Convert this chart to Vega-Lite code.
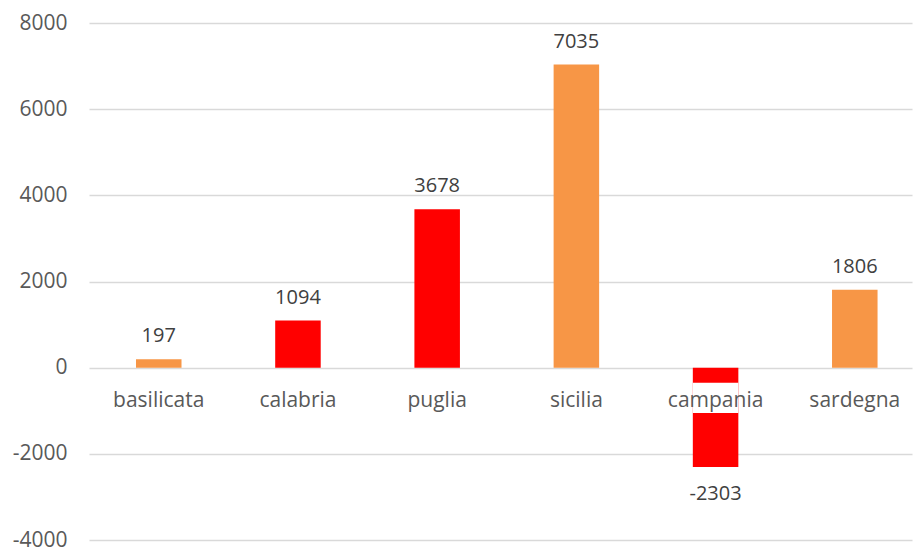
{
  "$schema": "https://vega.github.io/schema/vega-lite/v6.json",
  "width": 823,
  "height": 517,
  "autosize": {"type": "none"},
  "padding": {"left": 89, "top": 23, "right": 2, "bottom": 8},
  "background": "white",
  "config": {"view": {"stroke": null}, "font": "Open Sans"},
  "data": {"values": [
    {"regione": "basilicata", "valore": 197, "colore": "orange"},
    {"regione": "calabria", "valore": 1094, "colore": "red"},
    {"regione": "puglia", "valore": 3678, "colore": "red"},
    {"regione": "sicilia", "valore": 7035, "colore": "orange"},
    {"regione": "campania", "valore": -2303, "colore": "red"},
    {"regione": "sardegna", "valore": 1806, "colore": "orange"}
  ]},
  "encoding": {
    "x": {"field": "regione", "type": "nominal", "sort": null,
      "scale": {"paddingInner": 0.673, "paddingOuter": 0.2925, "align": 0.577},
      "axis": null}
  },
  "layer": [
    {
      "mark": {"type": "bar"},
      "encoding": {
        "y": {"field": "valore", "type": "quantitative",
          "scale": {"domain": [-4000, 8000], "nice": false, "zero": false},
          "axis": {"values": [-4000, -2000, 0, 2000, 4000, 6000, 8000], "title": null,
            "domain": false, "ticks": false, "grid": true, "gridColor": "#D9D9D9", "gridWidth": 1.3,
            "labelFontSize": 21, "labelColor": "#595959", "labelPadding": 22, "labelExpr": "'' + datum.value"}},
        "color": {"field": "colore", "type": "nominal",
          "scale": {"domain": ["orange", "red"], "range": ["#F79646", "#FF0000"]}, "legend": null}
      }
    },
    {
      "mark": {"type": "bar", "color": "white"},
      "encoding": {
        "y": {"datum": -350},
        "y2": {"datum": -1050}
      }
    },
    {
      "mark": {"type": "text", "fontSize": 21, "color": "#595959", "baseline": "middle", "dy": 33},
      "encoding": {
        "y": {"datum": 0},
        "text": {"field": "regione"}
      }
    },
    {
      "transform": [{"filter": "datum.valore >= 0"}],
      "mark": {"type": "text", "fontSize": 20, "color": "#404040", "baseline": "middle", "dy": -23},
      "encoding": {
        "y": {"field": "valore", "type": "quantitative"},
        "text": {"field": "valore"}
      }
    },
    {
      "transform": [{"filter": "datum.valore < 0"}],
      "mark": {"type": "text", "fontSize": 20, "color": "#404040", "baseline": "middle", "dy": 27},
      "encoding": {
        "y": {"field": "valore", "type": "quantitative"},
        "text": {"field": "valore"}
      }
    }
  ]
}
